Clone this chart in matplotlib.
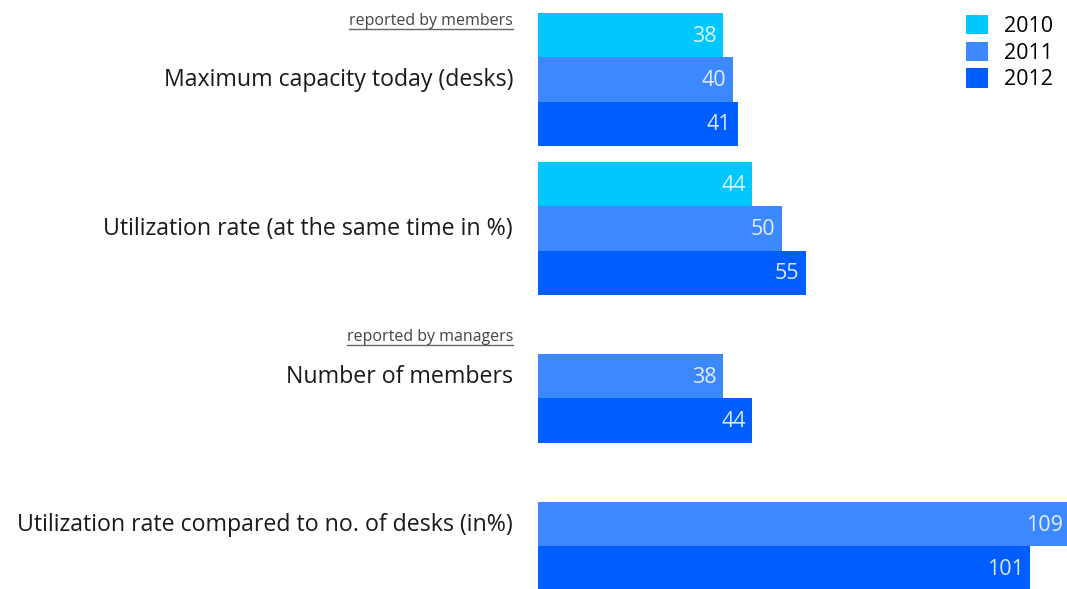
import matplotlib.pyplot as plt
import matplotlib.transforms as mtransforms
from matplotlib.patches import Patch
from matplotlib.lines import Line2D

# data
categories = ["Maximum capacity today (desks)",
              "Utilization rate (at the same time in %)",
              "Number of members",
              "Utilization rate compared to no. of desks (in%)"]
years = ["2010", "2011", "2012"]
v2010 = [38, 44, None, None]
v2011 = [40, 50, 38, 109]
v2012 = [41, 55, 44, 101]
section_notes = ["reported by members", None, "reported by managers", None]

colors = ["#00C8FF", "#3C88FF", "#005EFF"]

plt.rcParams['font.family'] = ['Open Sans', 'DejaVu Sans']

W, H = 1067, 589
fig = plt.figure(figsize=(W / 100, H / 100), dpi=100)
ax = fig.add_axes([538 / W, 0, (W - 538) / W, 1])
ax.set_xlim(0, 108.6)
ax.set_ylim(H, 0)   # y in pixels from the top
ax.axis('off')

# layout: top of each group (pixels), bar height, note positions
group_top = [13, 162, 354, 502]
note_y = [21, None, 337, None]
bar_h = 44.3

blend = mtransforms.blended_transform_factory(fig.transFigure, ax.transData)
series = [v2010, v2011, v2012]

for g, cat in enumerate(categories):
    slot = 0
    label_y = None
    for s, vals in enumerate(series):
        v = vals[g]
        if v is None:
            continue
        yc = group_top[g] + bar_h * (slot + 0.5)
        ax.barh(yc, v, height=bar_h, color=colors[s], edgecolor='none')
        ax.text(v - 1.3, yc + 1, str(v), ha='right', va='center',
                color='white', alpha=0.85, fontsize=15.5)
        if s == 1:
            label_y = yc
        slot += 1
    fig.text(513 / W, label_y + 1, cat, transform=blend, ha='right', va='center',
             fontsize=16.7, color='#1a1a1a')

# small underlined notes
fig.canvas.draw()
renderer = fig.canvas.get_renderer()
for g, note in enumerate(section_notes):
    if note is None:
        continue
    t = fig.text(513 / W, note_y[g], note, transform=blend, ha='right',
                 va='center', fontsize=11.5, color='#444444')
    bb = t.get_window_extent(renderer=renderer)
    y_line = bb.y0
    fig.add_artist(Line2D([bb.x0 / W, bb.x1 / W], [y_line / H, y_line / H],
                          transform=fig.transFigure, color='#666666', lw=1))

handles = [Patch(facecolor=c, edgecolor='none') for c in colors]
fig.legend(handles, years, loc='upper right', bbox_to_anchor=(1064 / W, 1 - 4 / H),
           frameon=False, fontsize=15.5, handlelength=1.0, handleheight=1.0,
           handletextpad=0.75, labelspacing=0.22, borderpad=0)

fig.savefig('out.png', dpi=100)
